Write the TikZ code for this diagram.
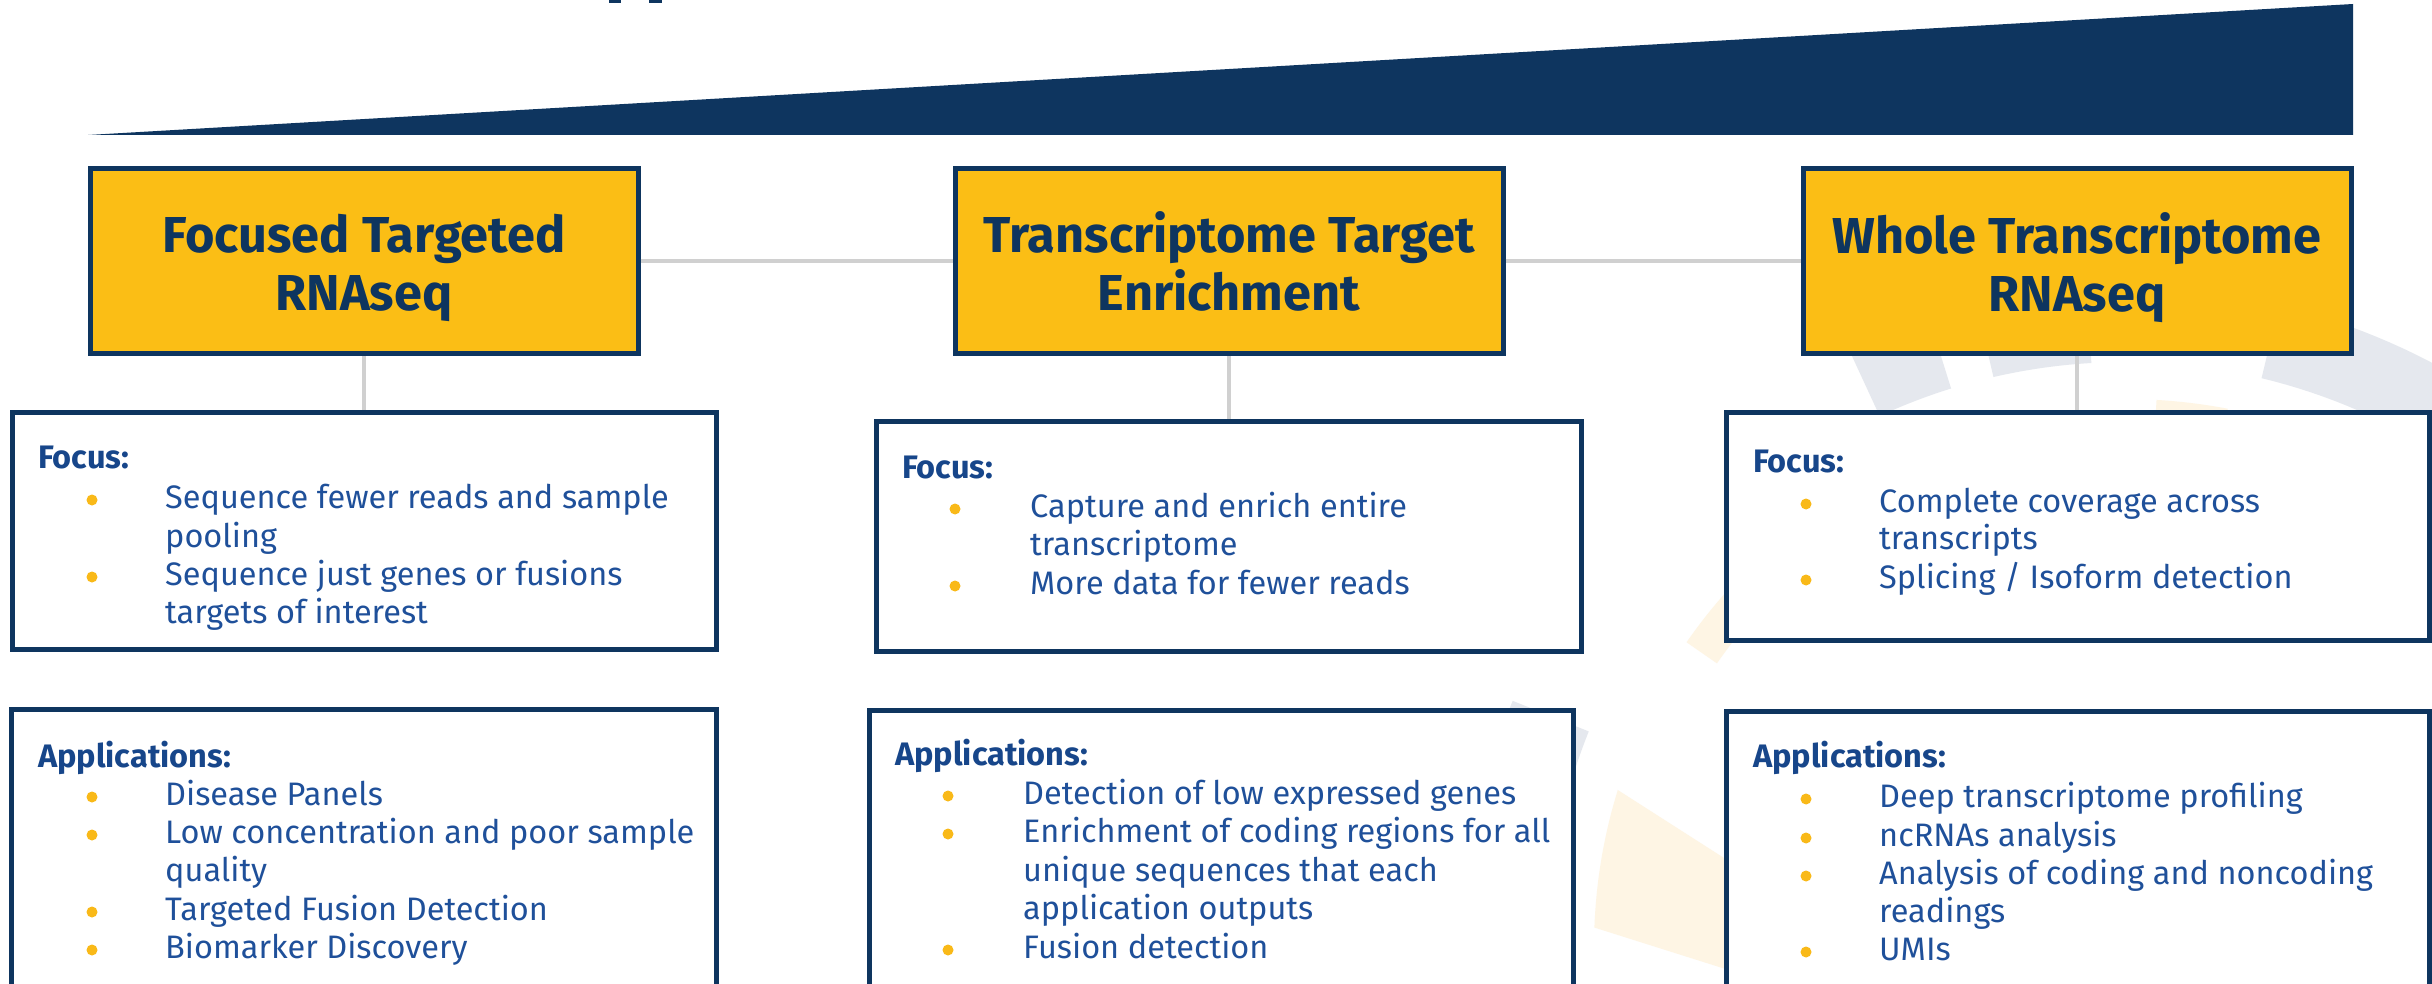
\documentclass[tikz,border=0pt]{standalone}
\usepackage{fontspec}
\setmainfont{Fira Sans}
\definecolor{navy}{HTML}{0E355F}
\definecolor{gold}{HTML}{FBBE15}
\definecolor{headblue}{HTML}{17468A}
\definecolor{bodyblue}{HTML}{1F509A}
\definecolor{dotgold}{HTML}{F9B918}
\definecolor{conngray}{HTML}{D0D0D0}
\definecolor{wmgray}{HTML}{E5E8EE}
\definecolor{wmyellow}{HTML}{FEF5E4}
\newcommand\txtline[4]{\node[bodytxt] (#1) at (#2,#3) {#4};}
\newcommand\bdot[2]{\fill[dotgold] (#1,#2) circle (5.5);}
\begin{document}
\begin{tikzpicture}[x=1pt,y=-1pt,
  titlebox/.style={draw=navy,line width=5pt,fill=gold,minimum width=548pt,minimum height=185pt,inner sep=0pt},
  contentbox/.style={draw=navy,line width=5pt,fill=white,inner sep=0pt},
  titletxt/.style={anchor=base,inner sep=0pt,text=navy,font=\fontsize{50.5}{60}\selectfont\bfseries},
  headtxt/.style={anchor=base west,inner sep=0pt,text=headblue,font=\fontsize{32.5}{38}\selectfont\bfseries},
  bodytxt/.style={anchor=base west,inner sep=0pt,text=bodyblue,font=\fontsize{32.5}{38}\selectfont},
  hconn/.style={draw=conngray,line width=4pt},
  vconn/.style={draw=conngray,line width=3.5pt}]
\useasboundingbox (0,0) rectangle (2432,984);
\clip (0,0) rectangle (2432,984);
\fill[white] (0,0) rectangle (2432,984);
% watermark ring
\fill[wmgray] plot[domain=-114.8:-107.3,samples=20] ({2125+660*cos(\x)},{947+660*sin(\x)}) -- plot[domain=-107.3:-114.8,samples=20] ({2125+585*cos(\x)},{947+585*sin(\x)}) -- cycle;
\fill[wmgray] plot[domain=-103:-93.3,samples=20] ({2125+660*cos(\x)},{947+660*sin(\x)}) -- plot[domain=-93.3:-103,samples=20] ({2125+585*cos(\x)},{947+585*sin(\x)}) -- cycle;
\fill[wmgray] plot[domain=-76.5:-40,samples=30] ({2125+660*cos(\x)},{947+660*sin(\x)}) -- plot[domain=-40:-76.5,samples=30] ({2125+585*cos(\x)},{947+585*sin(\x)}) -- cycle;
\fill[wmgray] plot[domain=-175:-158.1,samples=20] ({2125+660*cos(\x)},{947+660*sin(\x)}) -- plot[domain=-158.1:-175,samples=20] ({2125+578*cos(\x)},{947+578*sin(\x)}) -- cycle;
\fill[wmyellow] plot[domain=-86.7:-79.2,samples=20] ({2125+548*cos(\x)},{947+548*sin(\x)}) -- plot[domain=-79.2:-86.7,samples=20] ({2125+480*cos(\x)},{947+480*sin(\x)}) -- cycle;
\fill[wmyellow] plot[domain=-145.2:-130,samples=20] ({2125+534*cos(\x)},{947+534*sin(\x)}) -- plot[domain=-130:-145.2,samples=20] ({2125+497*cos(\x)},{947+497*sin(\x)}) -- cycle;
\fill[wmyellow] plot[domain=-162.8:-177.9,samples=20] ({2125+531*cos(\x)},{947+531*sin(\x)}) -- (1735,972) -- (1735,865) -- cycle;
% wedge
\fill[navy] (88,135) -- (2353,4) -- (2353,135) -- cycle;
\fill[navy] (609,0) rectangle (621,3);
\fill[navy] (649,0) rectangle (662,3);
% title boxes
\node[titlebox] (t1) at (364,261) {};
\node[titlebox] (t2) at (1229,261) {};
\node[titlebox] (t3) at (2077,261) {};
% content boxes
\node[contentbox,minimum width=704pt,minimum height=237pt] (f1) at (364,530.5) {};
\node[contentbox,minimum width=705pt,minimum height=230pt] (f2) at (1228.5,536) {};
\node[contentbox,minimum width=703pt,minimum height=228pt] (f3) at (2077.5,526) {};
\node[contentbox,minimum width=705pt,minimum height=300pt] (a1) at (363.5,859) {};
\node[contentbox,minimum width=704pt,minimum height=300pt] (a2) at (1221,860) {};
\node[contentbox,minimum width=703pt,minimum height=300pt] (a3) at (2077.5,861) {};
% connectors
\draw[hconn] (t1.east) -- (t2.west);
\draw[hconn] (t2.east) -- (t3.west);
\draw[vconn] (t1.south) -- (t1.south |- f1.north);
\draw[vconn] (t2.south) -- (t2.south |- f2.north);
\draw[vconn] (t3.south) -- (t3.south |- f3.north);
% titles
\node[titletxt] (t1a) at (364,253) {Focused Targeted};
\node[titletxt] (t1b) at (364,310) {RNAseq};
\node[titletxt] (t2a) at (1229,253) {Transcriptome Target};
\node[titletxt] (t2b) at (1229,310) {Enrichment};
\node[titletxt] (t3a) at (2077,254) {Whole Transcriptome};
\node[titletxt] (t3b) at (2077,311) {RNAseq};
% column 1
\node[headtxt] (f1h) at (38,468) {Focus:};
\bdot{92}{500}
\txtline{f1l1}{165}{508}{Sequence fewer reads and sample}
\txtline{f1l2}{165}{547}{pooling}
\bdot{92}{577}
\txtline{f1l3}{165}{585}{Sequence just genes or fusions}
\txtline{f1l4}{165}{623}{targets of interest}
\node[headtxt] (a1h) at (38,767) {Applications:};
\bdot{92}{797}
\txtline{a1l1}{165}{805}{Disease Panels}
\bdot{92}{835}
\txtline{a1l2}{165}{843}{Low concentration and poor sample}
\txtline{a1l3}{165}{881}{quality}
\bdot{92}{912}
\txtline{a1l4}{165}{920}{Targeted Fusion Detection}
\bdot{92}{950}
\txtline{a1l5}{165}{958}{Biomarker Discovery}
% column 2
\node[headtxt] (f2h) at (902,478) {Focus:};
\bdot{955}{509}
\txtline{f2l1}{1030}{517}{Capture and enrich entire}
\txtline{f2l2}{1030}{555}{transcriptome}
\bdot{955}{586}
\txtline{f2l3}{1030}{594}{More data for fewer reads}
\node[headtxt] (a2h) at (895,765) {Applications:};
\bdot{948}{796}
\txtline{a2l1}{1023}{804}{Detection of low expressed genes}
\bdot{948}{834}
\txtline{a2l2}{1023}{842}{Enrichment of coding regions for all}
\txtline{a2l3}{1023}{881}{unique sequences that each}
\txtline{a2l4}{1023}{919}{application outputs}
\bdot{948}{950}
\txtline{a2l5}{1023}{958}{Fusion detection}
% column 3
\node[headtxt] (f3h) at (1753,472) {Focus:};
\bdot{1806}{504}
\txtline{f3l1}{1879}{512}{Complete coverage across}
\txtline{f3l2}{1879}{549}{transcripts}
\bdot{1806}{580}
\txtline{f3l3}{1879}{588}{Splicing / Isoform detection}
\node[headtxt] (a3h) at (1753,767) {Applications:};
\bdot{1806}{799}
\txtline{a3l1}{1879}{807}{Deep transcriptome profiling}
\bdot{1806}{838}
\txtline{a3l2}{1879}{846}{ncRNAs analysis}
\bdot{1806}{876}
\txtline{a3l3}{1879}{884}{Analysis of coding and noncoding}
\txtline{a3l4}{1879}{922}{readings}
\bdot{1806}{952}
\txtline{a3l5}{1879}{960}{UMIs}
\end{tikzpicture}
\end{document}
